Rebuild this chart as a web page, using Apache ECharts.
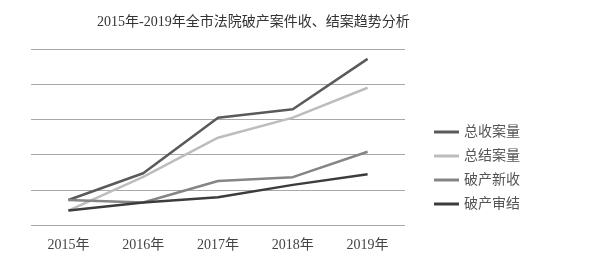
<!DOCTYPE html>
<html><head><meta charset="utf-8">
<script src="https://cdn.jsdelivr.net/npm/echarts@6/dist/echarts.min.js"></script>
<style>html,body{margin:0;padding:0;background:#fff}#c{width:595px;height:279px}</style>
</head><body><div id="c"></div>
<script>
const categories = ['2015年','2016年','2017年','2018年','2019年'];
const totalReceived = [71, 147, 305, 329, 472];
const totalClosed = [41, 137, 248, 305, 390];
const bankruptNew = [71, 64, 125, 136, 208];
const bankruptClosed = [41, 64, 79, 114, 144];
const seriesNames = ['总收案量','总结案量','破产新收','破产审结'];
const colors = ['#5a5a5a','#bdbdbd','#858585','#3c3c3c'];
const dataList = [totalReceived, totalClosed, bankruptNew, bankruptClosed];

const fontFam = '"Liberation Serif","Noto Sans CJK SC",serif';
const chart = echarts.init(document.getElementById('c'));
chart.setOption({
  backgroundColor:'#fff',
  animation:false,
  title:{text:'2015年-2019年全市法院破产案件收、结案趋势分析', left:92, top:10,
    textStyle:{fontSize:14, fontWeight:'normal', color:'#333', fontFamily:fontFam}},
  legend:{orient:'vertical', left:429, top:120, itemGap:10, itemWidth:25, itemHeight:3, icon:'rect',
    data:seriesNames, textStyle:{fontSize:14, color:'#555', fontFamily:fontFam}},
  grid:{left:31, right:190, top:49, bottom:54},
  xAxis:{type:'category', data:categories, boundaryGap:true,
    axisLine:{show:false}, axisTick:{show:false},
    axisLabel:{fontSize:14, color:'#444', margin:13, fontFamily:fontFam}},
  yAxis:{type:'value', min:0, max:500, interval:100,
    axisLabel:{show:false}, axisLine:{show:false}, axisTick:{show:false},
    splitLine:{lineStyle:{color:'#a8a8a8', width:1.2}}},
  series: dataList.map((d,i)=>({name:seriesNames[i], type:'line', data:d, symbol:'none',
    color:colors[i], lineStyle:{width:2.5, color:colors[i]}}))
});
</script></body></html>
